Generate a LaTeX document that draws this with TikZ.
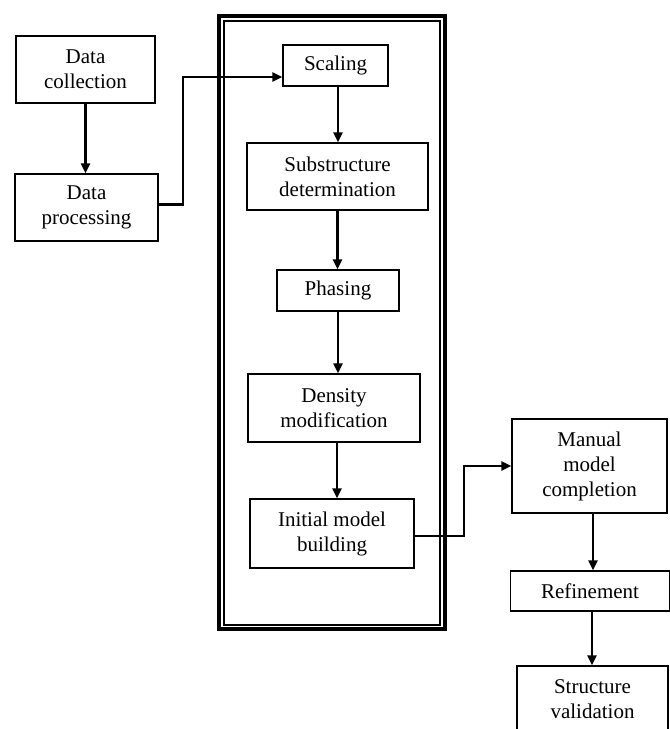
\documentclass[tikz,border=0pt]{standalone}
\usepackage{fontspec}
\setmainfont{Liberation Serif}
\usetikzlibrary{arrows.meta}
\begin{document}
\begin{tikzpicture}[x=1pt,y=-1pt,
  box/.style={draw, line width=1.3pt, inner sep=0pt, align=center,
    font=\fontsize{21}{25}\selectfont},
  conn/.style={line width=2.2pt, -{Triangle[length=10pt,width=9pt]}}]
\clip (0,0) rectangle (670,729);
\fill[white] (0,0) rectangle (670,729);
\useasboundingbox (0,0) rectangle (670,729);
% frame
\draw[line width=4.5pt] (219,16.2) rectangle (444.8,629.2);
\draw[line width=1.8pt] (223.8,21) rectangle (440.2,625);
% nodes
\node[box, minimum width=139pt, minimum height=67pt] (dc) at (85.5,69.5) {Data\\collection};
\node[box, minimum width=143pt, minimum height=67pt] (dp) at (86.5,207.5) {Data\\processing};
\node[box, minimum width=105pt, minimum height=41pt] (sc) at (335.5,65.5) {Scaling};
\node[box, minimum width=181pt, minimum height=67pt] (sd) at (337.5,176.5) {Substructure\\determination};
\node[box, minimum width=122pt, minimum height=41pt] (ph) at (338,290.5) {Phasing};
\node[box, minimum width=172pt, minimum height=68pt] (dm) at (334,408) {Density\\modification};
\node[box, minimum width=164pt, minimum height=69pt] (imb) at (332,533.5) {Initial model\\building};
\node[box, minimum width=155pt, minimum height=94pt] (mm) at (589.5,466) {Manual\\model\\completion};
\node[box, minimum width=159pt, minimum height=40pt] (rf) at (590,591) {Refinement};
\node[box, minimum width=151pt, minimum height=66pt] (sv) at (592.5,699) {Structure\\validation};
% connectors
\draw[conn] (dc.south) -- (dc.south |- dp.north);
\draw[conn] ([yshift=3pt]dp.east) -- ++(24,0) |- ([yshift=-11.5pt]sc.west);
\draw[conn] ([xshift=2.5pt]sc.south) -- ([xshift=2.5pt]sc.south |- sd.north);
\draw[conn] (sd.south) -- (sd.south |- ph.north);
\draw[conn] (ph.south) -- (ph.south |- dm.north);
\draw[conn] ([xshift=3pt]dm.south) -- ([xshift=3pt]dm.south |- imb.north);
\draw[conn] ([yshift=-2.5pt]imb.east) -- ++(49,0) |- (mm.west);
\draw[conn] ([xshift=3.5pt]mm.south) -- ([xshift=3.5pt]mm.south |- rf.north);
\draw[conn] ([xshift=2pt]rf.south) -- ([xshift=2pt]rf.south |- sv.north);
\end{tikzpicture}
\end{document}
